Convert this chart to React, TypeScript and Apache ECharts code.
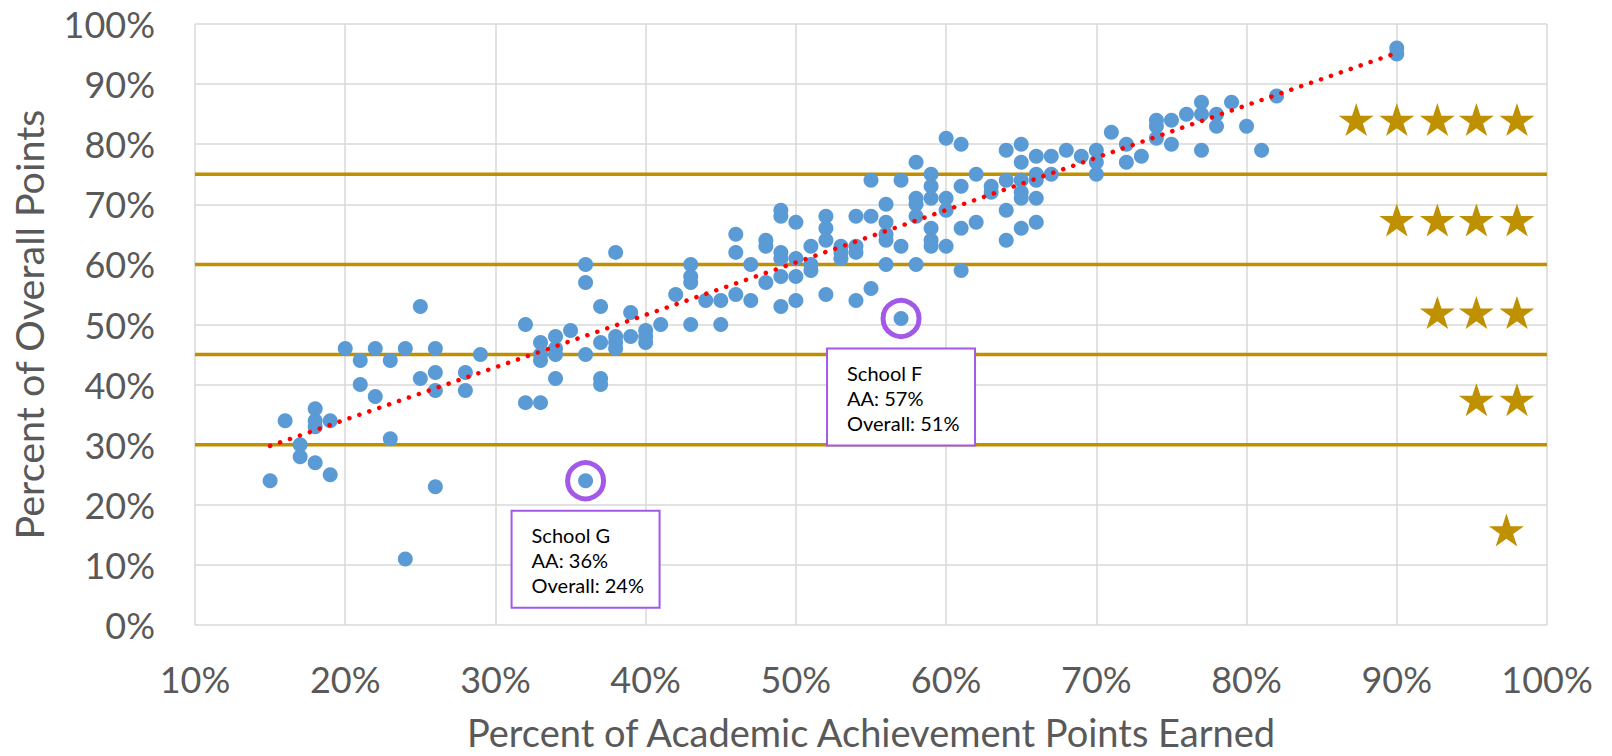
import React, { useEffect, useRef } from "react";
import * as echarts from "echarts";

// Percent of Academic Achievement points earned (x) and Percent of Overall points (y)
const academicPct: number[] = [
  15, 16, 17, 17, 18, 18, 18, 18, 19, 19, 20, 21, 21, 22, 22, 23, 23, 24, 24, 25, 25,
  26, 26, 26, 26, 28, 28, 29, 32, 32, 33, 33, 33, 33, 34, 34, 34, 34, 35,
  36, 36, 36, 36, 37, 37, 37, 37, 38, 38, 38, 38, 39, 39, 40, 40, 40, 41, 42,
  43, 43, 43, 43, 44, 45, 45, 46, 46, 46, 47, 47, 48, 48, 48,
  49, 49, 49, 49, 49, 49, 50, 50, 50, 50, 51, 51, 51, 52, 52, 52, 52,
  53, 53, 53, 54, 54, 54, 54, 55, 55, 55, 56, 56, 56, 56, 56, 57, 57, 57,
  58, 58, 58, 58, 58, 59, 59, 59, 59, 59, 59, 60, 60, 60, 60, 61, 61, 61, 61,
  62, 62, 63, 63, 64, 64, 64, 64, 65, 65, 65, 65, 65, 65, 66, 66, 66, 66, 66,
  67, 67, 68, 69, 70, 70, 70, 71, 72, 72, 73, 74, 74, 74, 75, 75, 76,
  77, 77, 77, 78, 78, 79, 80, 81, 82, 90, 90,
];
const overallPct: number[] = [
  24, 34, 30, 28, 36, 34, 33, 27, 34, 25, 46, 44, 40, 46, 38, 44, 31, 46, 11, 53, 41,
  46, 42, 39, 23, 42, 39, 45, 50, 37, 47, 45, 44, 37, 48, 46, 45, 41, 49,
  60, 57, 45, 24, 53, 47, 41, 40, 62, 48, 47, 46, 52, 48, 49, 48, 47, 50, 55,
  60, 58, 57, 50, 54, 54, 50, 65, 62, 55, 60, 54, 64, 63, 57,
  69, 68, 62, 61, 58, 53, 67, 61, 58, 54, 63, 60, 59, 68, 66, 64, 55,
  63, 62, 61, 68, 63, 62, 54, 74, 68, 56, 70, 67, 65, 64, 60, 74, 63, 51,
  77, 71, 70, 68, 60, 75, 73, 71, 66, 64, 63, 81, 71, 69, 63, 80, 73, 66, 59,
  75, 67, 73, 72, 79, 74, 69, 64, 80, 77, 74, 72, 71, 66, 78, 75, 74, 71, 67,
  78, 75, 79, 78, 79, 77, 75, 82, 80, 77, 78, 84, 83, 81, 84, 80, 85,
  87, 85, 79, 85, 83, 87, 83, 79, 88, 96, 95,
];

// Highlighted schools
const highlightNames: string[] = ["School G", "School F"];
const highlightAA: number[] = [36, 57];
const highlightOverall: number[] = [24, 51];

// Star-rating thresholds (overall points)
const thresholds: number[] = [30, 45, 60, 75];

// Star markers (rating rows on the right)
const starX: number[] = [
  87.3, 90, 92.7, 95.3, 98,
  90, 92.7, 95.3, 98,
  92.7, 95.3, 98,
  95.3, 98,
  97.3,
];
const starY: number[] = [
  84.1, 84.1, 84.1, 84.1, 84.1,
  67.4, 67.4, 67.4, 67.4,
  52, 52, 52,
  37.5, 37.5,
  15.8,
];

// Linear trend line end points
const trendX: number[] = [15, 90];
const trendY: number[] = [29.8, 95.2];

// Axis ticks
const xTicks = { min: 10, max: 100, step: 10 };
const yTicks = { min: 0, max: 100, step: 10 };

const STAR_PATH =
  "path://M100,0 L122.45,69.1 L195.1,69.1 L136.3,111.8 L158.8,180.9 L100,138.2 L41.2,180.9 L63.7,111.8 L4.9,69.1 L77.55,69.1 Z";

const FONT = "Lato, 'Open Sans', sans-serif";
const GOLD = "#BF9000";
const PURPLE = "#A259E8";
const AXIS_TEXT = "#595959";

export default function App() {
  const ref = useRef<HTMLDivElement | null>(null);

  useEffect(() => {
    if (!ref.current) return;
    const chart = echarts.init(ref.current, undefined, { renderer: "svg" });

    const points = academicPct.map((x, i) => [x, overallPct[i]]);

    const thresholdSeries = thresholds.map((t) => ({
      type: "line" as const,
      data: [
        [xTicks.min, t],
        [xTicks.max, t],
      ],
      symbol: "none",
      silent: true,
      z: 1,
      lineStyle: { color: GOLD, width: 3.5 },
    }));

    chart.setOption({
      animation: false,
      textStyle: { fontFamily: FONT },
      grid: {
        left: 195,
        right: 65,
        top: 24,
        bottom: 131,
        containLabel: false,
        outerBoundsMode: "none",
      },
      xAxis: {
        type: "value",
        min: xTicks.min,
        max: xTicks.max,
        interval: xTicks.step,
        axisLine: { show: false },
        axisTick: { show: false },
        axisLabel: {
          formatter: "{value}%",
          fontSize: 36,
          color: AXIS_TEXT,
          fontFamily: FONT,
          margin: 36,
        },
        splitLine: { show: true, lineStyle: { color: "#D9D9D9", width: 1.5 } },
        name: "Percent of Academic Achievement Points Earned",
        nameLocation: "middle",
        nameGap: 88,
        nameTextStyle: { fontSize: 38, color: AXIS_TEXT, fontFamily: FONT },
      },
      yAxis: {
        type: "value",
        min: yTicks.min,
        max: yTicks.max,
        interval: yTicks.step,
        axisLine: { show: false },
        axisTick: { show: false },
        axisLabel: {
          formatter: "{value}%",
          fontSize: 36,
          color: AXIS_TEXT,
          fontFamily: FONT,
          margin: 40,
        },
        splitLine: { show: true, lineStyle: { color: "#D9D9D9", width: 1.5 } },
        name: "Percent of Overall Points",
        nameLocation: "middle",
        nameGap: 147,
        nameTextStyle: { fontSize: 39.5, color: AXIS_TEXT, fontFamily: FONT },
      },
      series: [
        ...thresholdSeries,
        {
          type: "scatter",
          name: "Schools",
          data: points,
          symbol: "circle",
          symbolSize: 15,
          z: 2,
          itemStyle: { color: "#5B9BD5", opacity: 1 },
        },
        {
          type: "line",
          name: "Trend",
          data: trendX.map((x, i) => [x, trendY[i]]),
          symbol: "none",
          z: 3,
          lineStyle: { color: "#FF0000", width: 4.5, type: [0.1, 10.4], cap: "round" },
        },
        {
          type: "scatter",
          name: "Highlight",
          data: highlightAA.map((x, i) => [x, highlightOverall[i]]),
          symbol: "circle",
          symbolSize: 36,
          z: 4,
          itemStyle: { color: "rgba(0,0,0,0)", borderColor: PURPLE, borderWidth: 5, opacity: 1 },
        },
        {
          type: "scatter",
          name: "Stars",
          data: starX.map((x, i) => [x, starY[i]]),
          symbol: STAR_PATH,
          symbolSize: [35, 33],
          z: 2,
          itemStyle: { color: GOLD, opacity: 1 },
        },
      ],
    });

    const graphics: any[] = [];
    highlightAA.forEach((x, i) => {
      const [px, py] = chart.convertToPixel({ gridIndex: 0 }, [x, highlightOverall[i]]) as number[];
      const bw = 148;
      const bh = 97;
      const left = px - bw / 2;
      const top = py + 30;
      graphics.push({
        type: "rect",
        z: 100,
        shape: { x: left, y: top, width: bw, height: bh },
        style: { fill: "#FFFFFF", stroke: PURPLE, lineWidth: 2 },
      });
      graphics.push({
        type: "text",
        z: 101,
        x: left + 20,
        y: top + 12,
        style: {
          text: `${highlightNames[i]}\nAA: ${x}%\nOverall: ${highlightOverall[i]}%`,
          font: `20px ${FONT}`,
          fill: "#000000",
          lineHeight: 25,
        },
      });
    });
    chart.setOption({ graphic: graphics });

    return () => {
      chart.dispose();
    };
  }, []);

  return (
    <div
      ref={ref}
      style={{ position: "fixed", left: 0, top: 0, width: 1612, height: 756, background: "#FFFFFF" }}
    />
  );
}
